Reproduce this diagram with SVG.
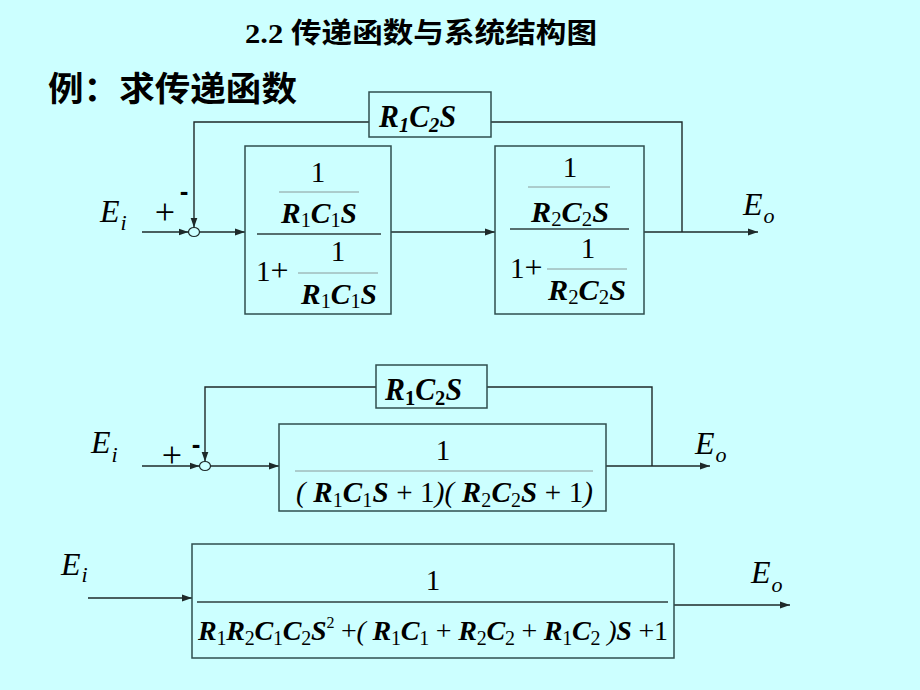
<svg xmlns="http://www.w3.org/2000/svg" width="920" height="690" viewBox="0 0 920 690">
<defs>
<marker id="arr" markerUnits="userSpaceOnUse" markerWidth="10" markerHeight="8" refX="10" refY="4" orient="auto">
<path d="M0,0.5 L10,4 L0,7.5 z" fill="#1e2a2a"/>
</marker>
<style>
.bg{fill:#ccffff}
.box{fill:none;stroke:#2f4f4f;stroke-width:1.5}
.ln{fill:none;stroke:#1e2a2a;stroke-width:1.4}
.ar{marker-end:url(#arr)}
.fr{stroke:#2f3f3f;stroke-width:1.3}
.sf{stroke:#8a9a9a;stroke-width:1}
.sum{fill:#ccffff;stroke:#1e2a2a;stroke-width:1.2}
.m{font-family:"Liberation Serif","Times New Roman",serif;font-size:29px;fill:#000}
.v{font-weight:bold;font-style:italic}
.s{font-size:20px}
.lab{font-family:"Liberation Serif",serif;font-style:italic;font-size:32px;fill:#000}
.lsub{font-size:22px}
.pm{font-family:"Liberation Serif",serif;font-size:36px;fill:#000}
.mi{font-family:"Liberation Sans",sans-serif;font-weight:bold;font-size:26px;fill:#000}
.cjk{font-family:"Liberation Serif","Noto Sans CJK SC",sans-serif;font-weight:bold;fill:#000}
</style>
</defs>
<rect class="bg" x="0" y="0" width="920" height="690"/>

<g id="title"><text class="cjk" x="245" y="43" font-size="28" textLength="352" lengthAdjust="spacingAndGlyphs">2.2 传递函数与系统结构图</text></g>
<g id="heading"><text class="cjk" x="48" y="101" font-size="34" textLength="249" lengthAdjust="spacingAndGlyphs" style="font-family:'Noto Sans CJK SC',sans-serif">例：求传递函数</text></g>

<!-- Connectors -->
<g id="connectors">
<path class="ln ar" d="M142,232 H188.5"/>
<path class="ln ar" d="M369,122 H194 V227.5"/>
<path class="ln ar" d="M199.5,232 H245"/>
<path class="ln ar" d="M391,232 H495"/>
<path class="ln ar" d="M644,232 H758"/>
<path class="ln" d="M682,232 V122 H491"/>

<path class="ln ar" d="M142,466 H199.5"/>
<path class="ln ar" d="M376,387 H205 V461.5"/>
<path class="ln ar" d="M210.5,466 H279"/>
<path class="ln ar" d="M606,466 H710"/>
<path class="ln" d="M652,466 V387 H487"/>

<path class="ln ar" d="M88,598 H192"/>
<path class="ln ar" d="M674,605 H790"/>
</g>

<!-- Diagram 1 -->
<g id="d1-input">
<text class="lab" x="100" y="222">E<tspan class="lsub" dx="1" dy="8">i</tspan></text>
<text class="pm" x="165" y="224" text-anchor="middle">+</text>
<text class="mi" x="184" y="200" text-anchor="middle">-</text>
</g>
<g id="d1-sum"><ellipse class="sum" cx="194" cy="232" rx="5.5" ry="4.5"/></g>
<g id="d1-g1">
<rect class="box" x="245" y="146" width="146" height="168"/>
<text class="m" x="318" y="182" text-anchor="middle">1</text>
<line class="sf" x1="279" y1="192" x2="359" y2="192"/>
<text class="m" x="319" y="223" text-anchor="middle" textLength="76" lengthAdjust="spacingAndGlyphs"><tspan class="v">R</tspan><tspan class="s" dy="4">1</tspan><tspan class="v" dy="-4">C</tspan><tspan class="s" dy="4">1</tspan><tspan class="v" dy="-4">S</tspan></text>
<line class="fr" x1="257" y1="234" x2="381" y2="234"/>
<text class="m" x="256" y="281">1<tspan style="font-size:32px">+</tspan></text>
<text class="m" x="338" y="261" text-anchor="middle">1</text>
<line class="sf" x1="298" y1="273" x2="378" y2="273"/>
<text class="m" x="339" y="304" text-anchor="middle" textLength="76" lengthAdjust="spacingAndGlyphs"><tspan class="v">R</tspan><tspan class="s" dy="4">1</tspan><tspan class="v" dy="-4">C</tspan><tspan class="s" dy="4">1</tspan><tspan class="v" dy="-4">S</tspan></text>
</g>
<g id="d1-g2">
<rect class="box" x="495" y="146" width="149" height="168"/>
<text class="m" x="570" y="177" text-anchor="middle">1</text>
<line class="sf" x1="528" y1="187" x2="610" y2="187"/>
<text class="m" x="570" y="222" text-anchor="middle" textLength="78" lengthAdjust="spacingAndGlyphs"><tspan class="v">R</tspan><tspan class="s" dy="4">2</tspan><tspan class="v" dy="-4">C</tspan><tspan class="s" dy="4">2</tspan><tspan class="v" dy="-4">S</tspan></text>
<line class="fr" x1="510" y1="229" x2="629" y2="229"/>
<text class="m" x="510" y="278">1<tspan style="font-size:32px">+</tspan></text>
<text class="m" x="588" y="258" text-anchor="middle">1</text>
<line class="sf" x1="547" y1="269" x2="627" y2="269"/>
<text class="m" x="587" y="300" text-anchor="middle" textLength="78" lengthAdjust="spacingAndGlyphs"><tspan class="v">R</tspan><tspan class="s" dy="4">2</tspan><tspan class="v" dy="-4">C</tspan><tspan class="s" dy="4">2</tspan><tspan class="v" dy="-4">S</tspan></text>
</g>
<g id="d1-h">
<rect class="box" x="369" y="92" width="122" height="45"/>
<text class="m" x="379" y="127" style="font-size:32px" textLength="77" lengthAdjust="spacingAndGlyphs"><tspan class="v">R</tspan><tspan class="v" style="font-size:22px" dy="5">1</tspan><tspan class="v" dy="-5">C</tspan><tspan class="v" style="font-size:22px" dy="5">2</tspan><tspan class="v" dy="-5">S</tspan></text>
</g>
<g id="d1-output">
<text class="lab" x="743" y="215">E<tspan class="lsub" dx="1" dy="8">o</tspan></text>
</g>

<!-- Diagram 2 -->
<g id="d2-input">
<text class="lab" x="91" y="453">E<tspan class="lsub" dx="1" dy="9">i</tspan></text>
<text class="pm" x="172" y="467" text-anchor="middle">+</text>
<text class="mi" x="196" y="453" text-anchor="middle">-</text>
</g>
<g id="d2-sum"><ellipse class="sum" cx="205" cy="466" rx="5.5" ry="4.5"/></g>
<g id="d2-h">
<rect class="box" x="376" y="365" width="111" height="43"/>
<text class="m" x="385" y="400" style="font-size:32px" textLength="77" lengthAdjust="spacingAndGlyphs"><tspan class="v">R</tspan><tspan class="v" style="font-size:22px;font-style:normal" dy="5">1</tspan><tspan class="v" dy="-5">C</tspan><tspan class="v" style="font-size:22px;font-style:normal" dy="5">2</tspan><tspan class="v" dy="-5">S</tspan></text>
</g>
<g id="d2-g">
<rect class="box" x="279" y="424" width="327" height="87"/>
<text class="m" x="443" y="460" text-anchor="middle">1</text>
<line class="sf" x1="295" y1="471" x2="593" y2="471"/>
<text class="m" x="296" y="502" textLength="297" lengthAdjust="spacing"><tspan font-style="italic">( </tspan><tspan class="v">R</tspan><tspan class="s" dy="5">1</tspan><tspan class="v" dy="-5">C</tspan><tspan class="s" dy="5">1</tspan><tspan class="v" dy="-5">S</tspan> + 1<tspan font-style="italic">)( </tspan><tspan class="v">R</tspan><tspan class="s" dy="5">2</tspan><tspan class="v" dy="-5">C</tspan><tspan class="s" dy="5">2</tspan><tspan class="v" dy="-5">S</tspan> + 1<tspan font-style="italic">)</tspan></text>
</g>
<g id="d2-output">
<text class="lab" x="695" y="454">E<tspan class="lsub" dx="1" dy="8">o</tspan></text>
</g>

<!-- Diagram 3 -->
<g id="d3-input">
<text class="lab" x="61" y="575">E<tspan class="lsub" dx="1" dy="7">i</tspan></text>
</g>
<g id="d3-g">
<rect class="box" x="192" y="544" width="482" height="114"/>
<text class="m" x="433" y="590" text-anchor="middle">1</text>
<line class="fr" x1="197" y1="602" x2="668" y2="602"/>
<text class="m" x="198" y="640" style="font-size:28px" textLength="470" lengthAdjust="spacing"><tspan class="v">R</tspan><tspan class="s" dy="5">1</tspan><tspan class="v" dy="-5">R</tspan><tspan class="s" dy="5">2</tspan><tspan class="v" dy="-5">C</tspan><tspan class="s" dy="5">1</tspan><tspan class="v" dy="-5">C</tspan><tspan class="s" dy="5">2</tspan><tspan class="v" dy="-5">S</tspan><tspan style="font-size:16px" dy="-12">2</tspan><tspan dy="12"> +</tspan><tspan font-style="italic">( </tspan><tspan class="v">R</tspan><tspan class="s" dy="5">1</tspan><tspan class="v" dy="-5">C</tspan><tspan class="s" dy="5">1</tspan><tspan dy="-5"> + </tspan><tspan class="v">R</tspan><tspan class="s" dy="5">2</tspan><tspan class="v" dy="-5">C</tspan><tspan class="s" dy="5">2</tspan><tspan dy="-5"> + </tspan><tspan class="v">R</tspan><tspan class="s" dy="5">1</tspan><tspan class="v" dy="-5">C</tspan><tspan class="s" dy="5">2</tspan><tspan font-style="italic" dy="-5"> )</tspan><tspan class="v">S</tspan> +1</text>
</g>
<g id="d3-output">
<text class="lab" x="751" y="583">E<tspan class="lsub" dx="1" dy="9">o</tspan></text>
</g>
</svg>
